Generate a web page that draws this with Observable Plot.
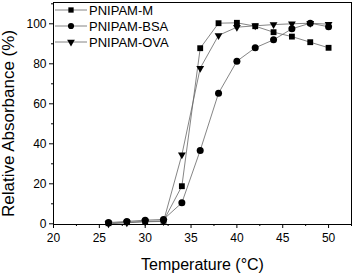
<!DOCTYPE html>
<html><head><meta charset="utf-8">
<script src="https://cdn.jsdelivr.net/npm/d3@7"></script>
<script src="https://cdn.jsdelivr.net/npm/@observablehq/plot@0.6"></script>
<style>body{margin:0;background:#fff} #chart{width:353px;height:275px}</style>
</head><body><div id="chart"></div>
<script>
const temperature = [26, 28, 30, 32, 34, 36, 38, 40, 42, 44, 46, 48, 50];
const pnipamM   = [0.3, 0.8, 1.2, 1.5, 18.8, 87.8, 100.3, 100.5, 98.8, 95.8, 93.6, 90.8, 88.0];
const pnipamBSA = [0.6, 1.2, 1.8, 2.2, 10.5, 36.7, 65.3, 81.3, 88.0, 92.0, 97.5, 100.3, 98.5];
const pnipamOVA = [0.0, 0.5, 1.0, 1.2, 34.5, 77.8, 94.2, 98.3, 99.0, 99.6, 100.0, 100.3, 99.8];
const seriesNames = ["PNIPAM-M", "PNIPAM-BSA", "PNIPAM-OVA"];
const xTicks = [20, 25, 30, 35, 40, 45, 50];
const xMinor = [22.5, 27.5, 32.5, 37.5, 42.5, 47.5, 52.5];
const yTicks = [0, 20, 40, 60, 80, 100];
const yMinor = [10, 30, 50, 70, 90, 110];

const seriesValues = [pnipamM, pnipamBSA, pnipamOVA];
const rows = [];
seriesNames.forEach((s, k) => temperature.forEach((t, i) => rows.push({series: s, t, v: seriesValues[k][i]})));
const bySeries = s => rows.filter(d => d.series === s);

const font = "'Liberation Sans', Arial, sans-serif";
const plot = Plot.plot({
  width: 353, height: 275,
  marginLeft: 53, marginRight: 2, marginTop: 2, marginBottom: 51,
  style: {fontFamily: font, fontSize: "12px", color: "black", background: "white"},
  x: {domain: [20, 52.5]},
  y: {domain: [-0.35, 110.65]},
  marks: [
    Plot.axisX(xTicks, {tickSize: 4, tickPadding: 5, fontSize: 12, label: null}),
    Plot.axisX(xMinor, {tickSize: 2, tickFormat: () => "", label: null}),
    Plot.axisY(yTicks, {tickSize: 4, tickPadding: 3, fontSize: 12, label: null}),
    Plot.axisY(yMinor, {tickSize: 2, tickFormat: () => "", label: null}),
    Plot.line(rows, {x: "t", y: "v", z: "series", stroke: "#666", strokeWidth: 0.8}),
    Plot.dot(bySeries("PNIPAM-M"), {x: "t", y: "v", symbol: "square", r: 3.3, fill: "black", stroke: "none"}),
    Plot.dot(bySeries("PNIPAM-OVA"), {x: "t", y: "v", symbol: "triangle", rotate: 180, r: 2.9, fill: "black", stroke: "none"}),
    Plot.dot(bySeries("PNIPAM-BSA"), {x: "t", y: "v", symbol: "circle", r: 3.5, fill: "black", stroke: "none"}),
    Plot.frame({stroke: "black", strokeWidth: 1}),
    Plot.text(["Temperature (°C)"], {frameAnchor: "bottom", dy: 40, fontSize: 16, textAnchor: "middle", lineAnchor: "middle", fill: "black"}),
    Plot.text(["Relative Absorbance (%)"], {frameAnchor: "left", rotate: -90, dx: -44.5, dy: 10, fontSize: 17, textAnchor: "middle", lineAnchor: "middle", fill: "black"})
  ]
});
document.getElementById("chart").appendChild(plot);

// legend inside the frame, top-left
const svg = d3.select(plot);
const lg = svg.append("g").attr("font-family", font).attr("font-size", 13).attr("text-anchor", "start");
const syms = [d3.symbolSquare, d3.symbolCircle, d3.symbolTriangle];
const symSizes = [28, 30, 26];
const symRot = [0, 0, 180];
seriesNames.forEach((name, i) => {
  const y = 10 + i * 16;
  lg.append("line").attr("x1", 55).attr("x2", 87).attr("y1", y).attr("y2", y).attr("stroke", "#666").attr("stroke-width", 0.8);
  lg.append("path").attr("d", d3.symbol(syms[i], symSizes[i])()).attr("transform", `translate(71,${y}) rotate(${symRot[i]})`).attr("fill", "black");
  lg.append("text").attr("x", 89).attr("y", y).attr("dy", "0.35em").attr("text-anchor", "start").attr("fill", "black").text(name);
});
</script>
</body></html>
